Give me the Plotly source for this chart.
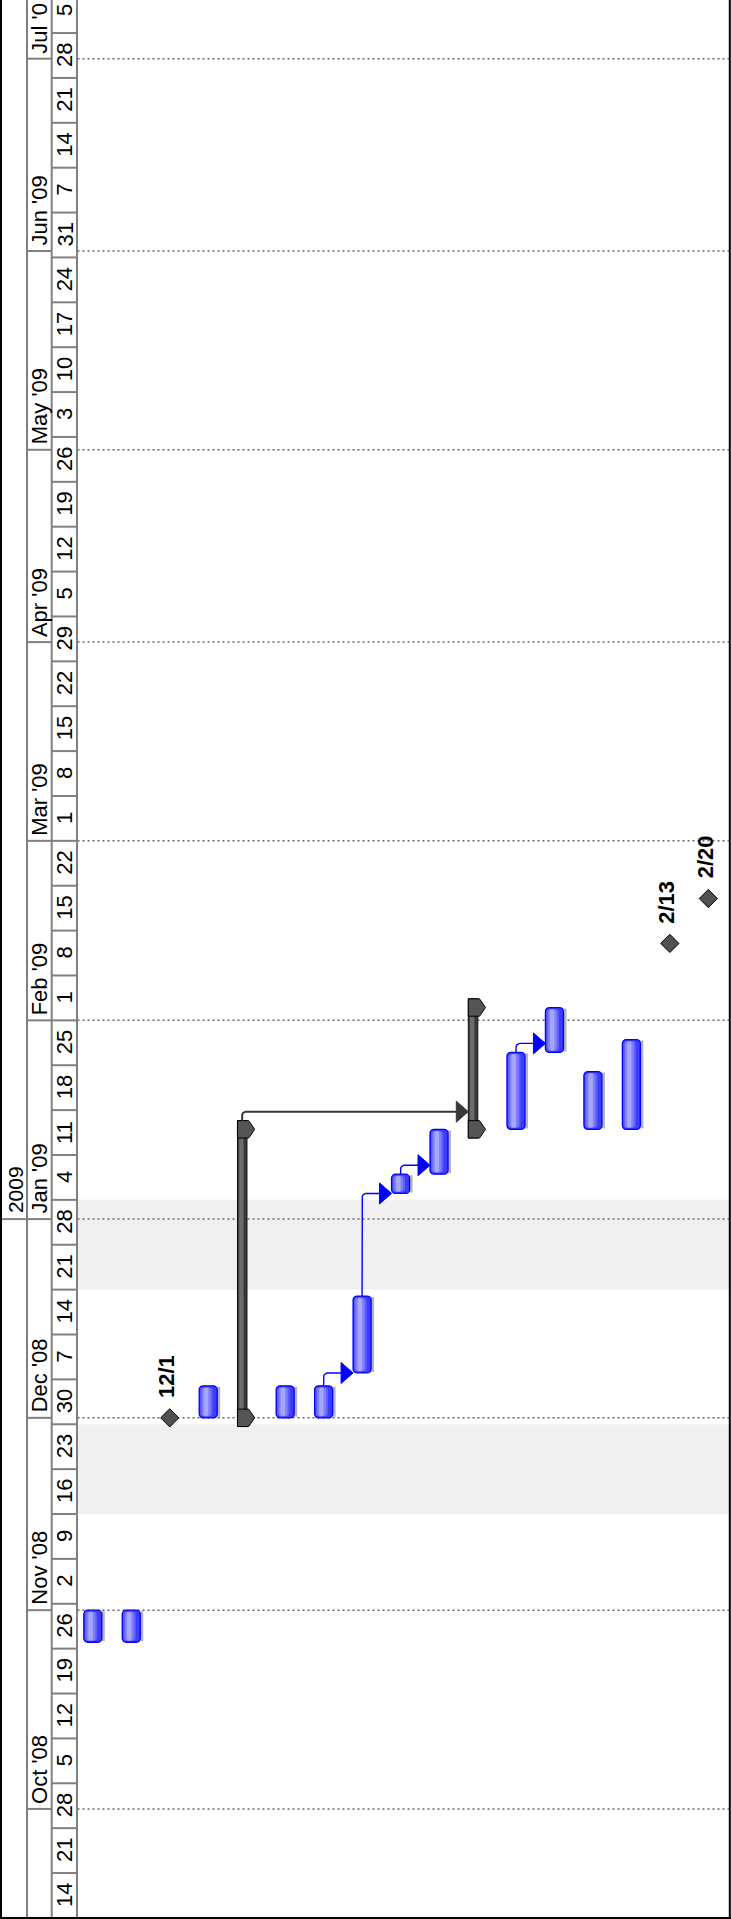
import math
import plotly.graph_objects as go
import pandas as pd

# ---------------- data ----------------
task_kind = ["task", "task", "milestone", "task", "summary", "task", "task", "task",
             "task", "task", "summary", "task", "task", "task", "task", "milestone", "milestone"]
task_start = ["2008-10-27", "2008-10-27", "2008-12-01", "2008-12-01", "2008-12-01",
              "2008-12-01", "2008-12-01", "2008-12-08", "2009-01-05", "2009-01-08",
              "2009-01-15", "2009-01-15", "2009-01-27", "2009-01-15", "2009-01-15",
              "2009-02-13", "2009-02-20"]
task_finish = ["2008-10-31", "2008-10-31", "2008-12-01", "2008-12-05", "2009-01-14",
               "2008-12-05", "2008-12-05", "2008-12-19", "2009-01-07", "2009-01-14",
               "2009-02-02", "2009-01-26", "2009-02-02", "2009-01-23", "2009-01-28",
               "2009-02-13", "2009-02-20"]
task_label = ["", "", "12/1", "", "", "", "", "", "", "", "", "", "", "", "", "2/13", "2/20"]

link_from = [6, 7, 8, 11, 4]
link_to = [7, 8, 9, 12, 10]

nonwork_start = ["2008-11-16", "2008-12-21"]
nonwork_end = ["2008-11-30", "2009-01-04"]

year_labels = ["2009"]
year_starts = ["2009-01-01"]

month_labels = ["Oct '08", "Nov '08", "Dec '08", "Jan '09", "Feb '09", "Mar '09",
                "Apr '09", "May '09", "Jun '09", "Jul '0"]
month_starts = ["2008-10-01", "2008-11-01", "2008-12-01", "2009-01-01", "2009-02-01",
                "2009-03-01", "2009-04-01", "2009-05-01", "2009-06-01", "2009-07-01"]

week_labels = ["14", "21", "28", "5", "12", "19", "26", "2", "9", "16", "23", "30",
               "7", "14", "21", "28", "4", "11", "18", "25", "1", "8", "15", "22",
               "1", "8", "15", "22", "29", "5", "12", "19", "26", "3", "10", "17",
               "24", "31", "7", "14", "21", "28", "5"]
first_week_start = "2008-09-14"

# ---------------- geometry helpers ----------------
W, H = 731, 1919
PX_PER_DAY = 6.4111
JAN1 = pd.Timestamp("2009-01-01")
JAN1_PX = 1219.1
ROW_PX = 38.47
ROW0_PX = 92.8
FONT = "Liberation Sans, Arial, sans-serif"


def dpx(px):
    return pd.Timedelta(days=px / PX_PER_DAY)


def rpx(px):
    return px / ROW_PX


def s(t):
    return pd.Timestamp(t).round("s").strftime("%Y-%m-%d %H:%M:%S")


y_lo = JAN1 - dpx(H - JAN1_PX)
y_hi = JAN1 + dpx(JAN1_PX)
x_lo = -ROW0_PX / ROW_PX
x_hi = (W - ROW0_PX) / ROW_PX

ts = [pd.Timestamp(t) for t in task_start]
tf = [pd.Timestamp(t) + pd.Timedelta(days=1) for t in task_finish]
rows = list(range(len(task_kind)))

fig = go.Figure()


def bar_layer(idx, t0, t1, left_px, right_px, color, line_color=None, line_w=0, radius=0):
    fig.add_trace(go.Bar(
        x=[rows[i] for i in idx],
        y=[(t1[k] - t0[k]).total_seconds() * 1000 for k in range(len(idx))],
        base=[s(t0[k]) for k in range(len(idx))],
        width=rpx(right_px - left_px), offset=rpx(left_px),
        marker=dict(color=color, cornerradius=radius,
                    line=dict(color=line_color or color, width=line_w)),
        hoverinfo="skip", showlegend=False))


# ----- task bars -----
ti = [i for i, k in enumerate(task_kind) if k == "task"]
t0 = [ts[i] for i in ti]
t1 = [tf[i] for i in ti]
bar_layer(ti, [t + dpx(1.0) for t in t0], [t - dpx(1.0) for t in t1], 9.0, 12.0, "#b4b4b4")
bar_layer(ti, t0, t1, -9.0, 9.0, "#3c3cff", "#0000ff", 1.3, 4)
ins0 = [t + dpx(1.6) for t in t0]
ins1 = [t - dpx(1.6) for t in t1]
bar_layer(ti, ins0, ins1, -8.0, 4.5, "#5e5eff", radius=3)
bar_layer(ti, ins0, ins1, -6.5, 2.5, "#8080ff", radius=3)
bar_layer(ti, ins0, ins1, -4.5, 0.0, "#a6a6ff", radius=2)

# ----- summary bars -----
si = [i for i, k in enumerate(task_kind) if k == "summary"]
s0 = [ts[i] - dpx(8.7) for i in si]
s1 = [tf[i] + dpx(8.7) for i in si]
bar_layer(si, s0, s1, -9.2, 0.3, "#3a3a3a", "#111111", 1.0)
bar_layer(si, [t + dpx(1) for t in s0], [t - dpx(1) for t in s1], -7.6, -3.2, "#6c6c6c")

cap_x, cap_y = [], []
for i in si:
    for t in (ts[i], tf[i]):
        for dx, dy in [(-9.2, -8.7), (2.0, -8.7), (8.0, 0.0), (2.0, 8.7), (-9.2, 8.7), (-9.2, -8.7)]:
            cap_x.append(i + rpx(dx))
            cap_y.append(s(t + dpx(dy)))
        cap_x.append(None)
        cap_y.append(None)
fig.add_trace(go.Scatter(x=cap_x, y=cap_y, mode="lines", fill="toself",
                         fillcolor="#555555", line=dict(color="#000000", width=1),
                         hoverinfo="skip", showlegend=False))

# ----- links -----
for color, lw, want_summary in (("#0000ff", 1.4, False), ("#383838", 2.0, True)):
    lx, ly, hx, hy = [], [], [], []
    for a, b in zip(link_from, link_to):
        is_sum = task_kind[a] == "summary"
        if is_sum != want_summary:
            continue
        if is_sum:
            xs = a + rpx(-4.6)
            tl0 = tf[a] + dpx(8.7)
        else:
            xs = a
            tl0 = tf[a]
        x_tip = b + rpx(-9.2 if task_kind[b] == "summary" else -9.0)
        tc = max(ts[b], tl0 + dpx(9.0))
        r = 4.0
        pts = [(xs, tl0), (xs, tc - dpx(r))]
        for k in range(1, 6):
            ang = math.radians(180 - 18 * k)
            pts.append((xs + rpx(r) + rpx(r) * math.cos(ang), tc - dpx(r) + dpx(r) * math.sin(ang)))
        pts.append((x_tip - rpx(10), tc))
        for px_, py_ in pts:
            lx.append(px_)
            ly.append(s(py_))
        lx.append(None)
        ly.append(None)
        for dx, dy in [(-12, -10.5), (0, 0), (-12, 10.5), (-12, -10.5)]:
            hx.append(x_tip + rpx(dx))
            hy.append(s(tc + dpx(dy)))
        hx.append(None)
        hy.append(None)
    fig.add_trace(go.Scatter(x=lx, y=ly, mode="lines", line=dict(color=color, width=lw),
                             hoverinfo="skip", showlegend=False))
    fig.add_trace(go.Scatter(x=hx, y=hy, mode="lines", fill="toself", fillcolor=color,
                             line=dict(color=color, width=1), hoverinfo="skip", showlegend=False))

# ----- milestones -----
mi = [i for i, k in enumerate(task_kind) if k == "milestone"]
fig.add_trace(go.Scatter(x=mi, y=[s(ts[i]) for i in mi], mode="markers",
                         marker=dict(symbol="diamond", size=14, color="#505050",
                                     line=dict(color="#000000", width=1)),
                         hoverinfo="skip", showlegend=False))

annotations = []
for i in mi:
    annotations.append(dict(x=i, y=s(ts[i]), xref="x", yref="y", text="<b>%s</b>" % task_label[i],
                            textangle=-90, showarrow=False, xanchor="center", yanchor="bottom",
                            xshift=-3, yshift=19, borderpad=0,
                            font=dict(family=FONT, size=22, color="#000000")))

# ----- shapes: background bands, month dashed lines, header -----
shapes = []
PL = 77.5 / W
PR = 729.0 / W
for a, b in zip(nonwork_start, nonwork_end):
    shapes.append(dict(type="rect", xref="paper", yref="y", x0=PL, x1=PR, y0=a, y1=b,
                       fillcolor="#f0f0f0", line=dict(width=0), layer="below"))
for m in month_starts:
    shapes.append(dict(type="line", xref="paper", yref="y", x0=PL, x1=PR, y0=m, y1=m,
                       line=dict(color="#666666", width=1.5, dash="2px,3px"), layer="below"))

X_T1, X_T2, X_T3 = 27.0 / W, 51.7 / W, 77.0 / W
GRAY = "#808080"
for xv in (X_T1, X_T2, X_T3):
    shapes.append(dict(type="line", xref="paper", yref="paper", x0=xv, x1=xv, y0=0, y1=1,
                       line=dict(color=GRAY, width=2)))
for y in year_starts:
    shapes.append(dict(type="line", xref="paper", yref="y", x0=2.0 / W, x1=X_T1, y0=y, y1=y,
                       line=dict(color=GRAY, width=2)))
for m in month_starts:
    shapes.append(dict(type="line", xref="paper", yref="y", x0=X_T1, x1=X_T2, y0=m, y1=m,
                       line=dict(color=GRAY, width=2)))
week_starts = [pd.Timestamp(first_week_start) + pd.Timedelta(days=7 * k) for k in range(len(week_labels))]
for w in week_starts[1:]:
    shapes.append(dict(type="line", xref="paper", yref="y", x0=X_T2, x1=X_T3, y0=s(w), y1=s(w),
                       line=dict(color=GRAY, width=2)))

# outer border
shapes.append(dict(type="line", xref="paper", yref="paper", x0=1.0 / W, x1=1.0 / W, y0=0, y1=1,
                   line=dict(color="#000000", width=2)))
shapes.append(dict(type="line", xref="paper", yref="paper", x0=729.8 / W, x1=729.8 / W, y0=0, y1=1,
                   line=dict(color="#000000", width=2)))
shapes.append(dict(type="line", xref="paper", yref="paper", x0=0, x1=1, y0=1.0 / H, y1=1.0 / H,
                   line=dict(color="#000000", width=2)))

hdr_font = dict(family=FONT, size=22, color="#000000")
for lab, y in zip(year_labels, year_starts):
    annotations.append(dict(x=15.5 / W, y=y, xref="paper", yref="y", text=lab, textangle=-90,
                            showarrow=False, xanchor="center", yanchor="bottom", yshift=5,
                            borderpad=0, font=dict(family=FONT, size=21, color="#000000")))
for lab, m in zip(month_labels, month_starts):
    annotations.append(dict(x=39.5 / W, y=m, xref="paper", yref="y", text=lab, textangle=-90,
                            showarrow=False, xanchor="center", yanchor="bottom", yshift=4,
                            borderpad=0, font=hdr_font))
for lab, w in zip(week_labels, week_starts):
    annotations.append(dict(x=64.5 / W, y=s(w + pd.Timedelta(days=3.5)), xref="paper", yref="y",
                            text=lab, textangle=-90, showarrow=False, xanchor="center",
                            yanchor="middle", borderpad=0, font=hdr_font))

fig.update_layout(
    width=W, height=H,
    margin=dict(l=0, r=0, t=0, b=0, pad=0),
    paper_bgcolor="#ffffff", plot_bgcolor="#ffffff",
    barmode="overlay", showlegend=False, hovermode=False,
    xaxis=dict(range=[x_lo, x_hi], visible=False, fixedrange=True),
    yaxis=dict(type="date", range=[s(y_lo), s(y_hi)], visible=False, fixedrange=True),
    shapes=shapes, annotations=annotations,
)

fig.write_html("out.html", config={"displayModeBar": False},
               post_script="document.body.style.margin='0';document.body.style.overflow='hidden';")
